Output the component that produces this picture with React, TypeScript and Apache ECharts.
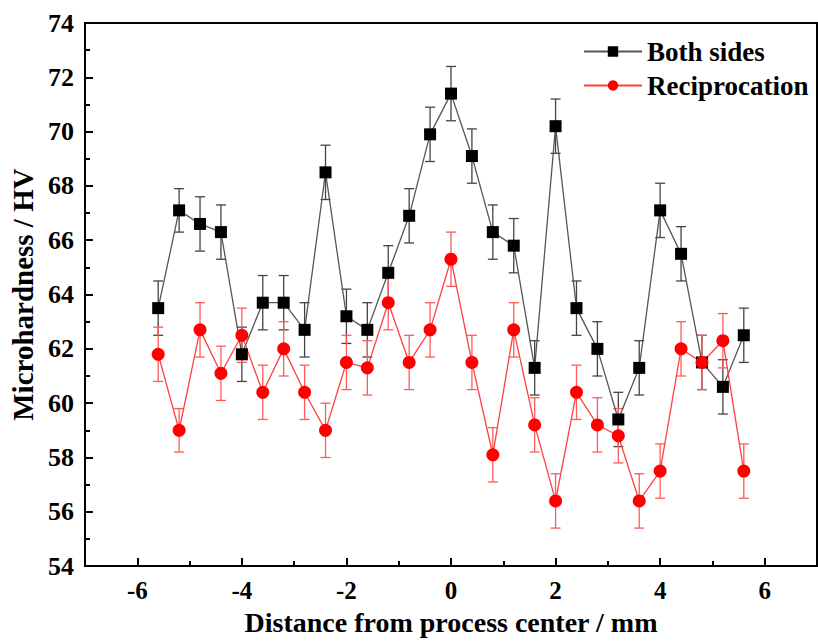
import React, { useEffect, useRef } from "react";
import * as echarts from "echarts";

const xValues = [-5.6, -5.2, -4.8, -4.4, -4.0, -3.6, -3.2, -2.8, -2.4, -2.0, -1.6, -1.2, -0.8, -0.4, 0, 0.4, 0.8, 1.2, 1.6, 2.0, 2.4, 2.8, 3.2, 3.6, 4.0, 4.4, 4.8, 5.2, 5.6];
const bothSides = [63.5, 67.1, 66.6, 66.3, 61.8, 63.7, 63.7, 62.7, 68.5, 63.2, 62.7, 64.8, 66.9, 69.9, 71.4, 69.1, 66.3, 65.8, 61.3, 70.2, 63.5, 62.0, 59.4, 61.3, 67.1, 65.5, 61.5, 60.6, 62.5];
const bothErr = [1.0, 0.8, 1.0, 1.0, 1.0, 1.0, 1.0, 1.0, 1.0, 1.0, 1.0, 1.0, 1.0, 1.0, 1.0, 1.0, 1.0, 1.0, 1.0, 1.0, 1.0, 1.0, 1.0, 1.0, 1.0, 1.0, 1.0, 1.0, 1.0];
const reciprocation = [61.8, 59.0, 62.7, 61.1, 62.5, 60.4, 62.0, 60.4, 59.0, 61.5, 61.3, 63.7, 61.5, 62.7, 65.3, 61.5, 58.1, 62.7, 59.2, 56.4, 60.4, 59.2, 58.8, 56.4, 57.5, 62.0, 61.5, 62.3, 57.5];
const recipErr = [1.0, 0.8, 1.0, 1.0, 1.0, 1.0, 1.0, 1.0, 1.0, 1.0, 1.0, 1.0, 1.0, 1.0, 1.0, 1.0, 1.0, 1.0, 1.0, 1.0, 1.0, 1.0, 1.0, 1.0, 1.0, 1.0, 1.0, 1.0, 1.0];
const xMajorTicks = [-6, -4, -2, 0, 2, 4, 6];
const xMinorTicks = [-7, -5, -3, -1, 1, 3, 5, 7];

const FONT = "Liberation Serif";

function errorSeries(name: string, ys: number[], errs: number[], color: string) {
  return {
    type: "custom",
    name: name + "-err",
    xAxisIndex: 0,
    yAxisIndex: 0,
    z: 1,
    silent: true,
    data: xValues.map((x, i) => [x, ys[i] - errs[i], ys[i] + errs[i]]),
    renderItem: (params: any, api: any) => {
      const x = api.value(0);
      const top = api.coord([x, api.value(2)]);
      const bot = api.coord([x, api.value(1)]);
      const hw = 5;
      const style = { stroke: color, lineWidth: 1.3 };
      return {
        type: "group",
        children: [
          { type: "line", shape: { x1: top[0], y1: top[1], x2: bot[0], y2: bot[1] }, style },
          { type: "line", shape: { x1: top[0] - hw, y1: top[1], x2: top[0] + hw, y2: top[1] }, style },
          { type: "line", shape: { x1: bot[0] - hw, y1: bot[1], x2: bot[0] + hw, y2: bot[1] }, style },
        ],
      };
    },
  };
}

export default function App() {
  const ref = useRef<HTMLDivElement>(null);
  useEffect(() => {
    if (!ref.current) return;
    const chart = echarts.init(ref.current, undefined, { renderer: "svg" });
    chart.setOption({
      animation: false,
      backgroundColor: "#fff",
      grid: {
        left: 83,
        right: 1,
        top: 23,
        bottom: 71,
        show: true,
        borderColor: "#000",
        borderWidth: 2,
        backgroundColor: "transparent",
      },
      legend: {
        orient: "vertical",
        left: 578,
        top: 33,
        itemWidth: 58,
        itemHeight: 13,
        itemGap: 7,
        data: ["Both sides", "Reciprocation"],
        textStyle: { fontFamily: FONT, fontWeight: "bold", fontSize: 27, color: "#000" },
      },
      xAxis: [
        {
          type: "value",
          min: -7,
          max: 7,
          interval: 1,
          axisLine: { show: true, onZero: false, lineStyle: { color: "#000", width: 2 } },
          axisTick: { show: true, inside: true, length: 8, customValues: xMajorTicks, lineStyle: { color: "#000", width: 2 } },
          axisLabel: { customValues: xMajorTicks, margin: 12, fontFamily: FONT, fontWeight: "bold", fontSize: 25, color: "#000" },
          splitLine: { show: false },
          name: "Distance from process center / mm",
          nameLocation: "middle",
          nameGap: 38,
          nameTextStyle: { fontFamily: FONT, fontWeight: "bold", fontSize: 28, color: "#000" },
        },
        {
          type: "value",
          min: -7,
          max: 7,
          interval: 1,
          position: "bottom",
          axisLine: { show: false, onZero: false },
          axisTick: { show: true, inside: true, length: 5, customValues: xMinorTicks, lineStyle: { color: "#000", width: 2 } },
          axisLabel: { show: false },
          splitLine: { show: false },
        },
      ],
      yAxis: {
        type: "value",
        min: 54,
        max: 74,
        interval: 2,
        axisLine: { show: true, onZero: false, lineStyle: { color: "#000", width: 2 } },
        axisTick: { show: true, inside: true, length: 8, lineStyle: { color: "#000", width: 2 } },
        minorTick: { show: true, splitNumber: 2, length: 5, lineStyle: { color: "#000", width: 2 } },
        axisLabel: { margin: 11, fontFamily: FONT, fontWeight: "bold", fontSize: 26, color: "#000" },
        splitLine: { show: false },
        name: "Microhardness / HV",
        nameLocation: "middle",
        nameGap: 48,
        nameTextStyle: { fontFamily: FONT, fontWeight: "bold", fontSize: 29, color: "#000" },
      },
      series: [
        errorSeries("Both sides", bothSides, bothErr, "#444"),
        errorSeries("Reciprocation", reciprocation, recipErr, "#ff5a5a"),
        {
          type: "line",
          name: "Both sides",
          z: 3,
          data: xValues.map((x, i) => [x, bothSides[i]]),
          symbol: "rect",
          symbolSize: 12,
          itemStyle: { color: "#000" },
          lineStyle: { color: "#555", width: 1.3 },
        },
        {
          type: "line",
          name: "Reciprocation",
          z: 3,
          data: xValues.map((x, i) => [x, reciprocation[i]]),
          symbol: "circle",
          symbolSize: 13,
          itemStyle: { color: "#ff0000" },
          lineStyle: { color: "#ff4040", width: 1.3 },
        },
      ],
    });
    return () => chart.dispose();
  }, []);
  return <div ref={ref} style={{ position: "absolute", left: 0, top: 0, width: 818, height: 641 }} />;
}
